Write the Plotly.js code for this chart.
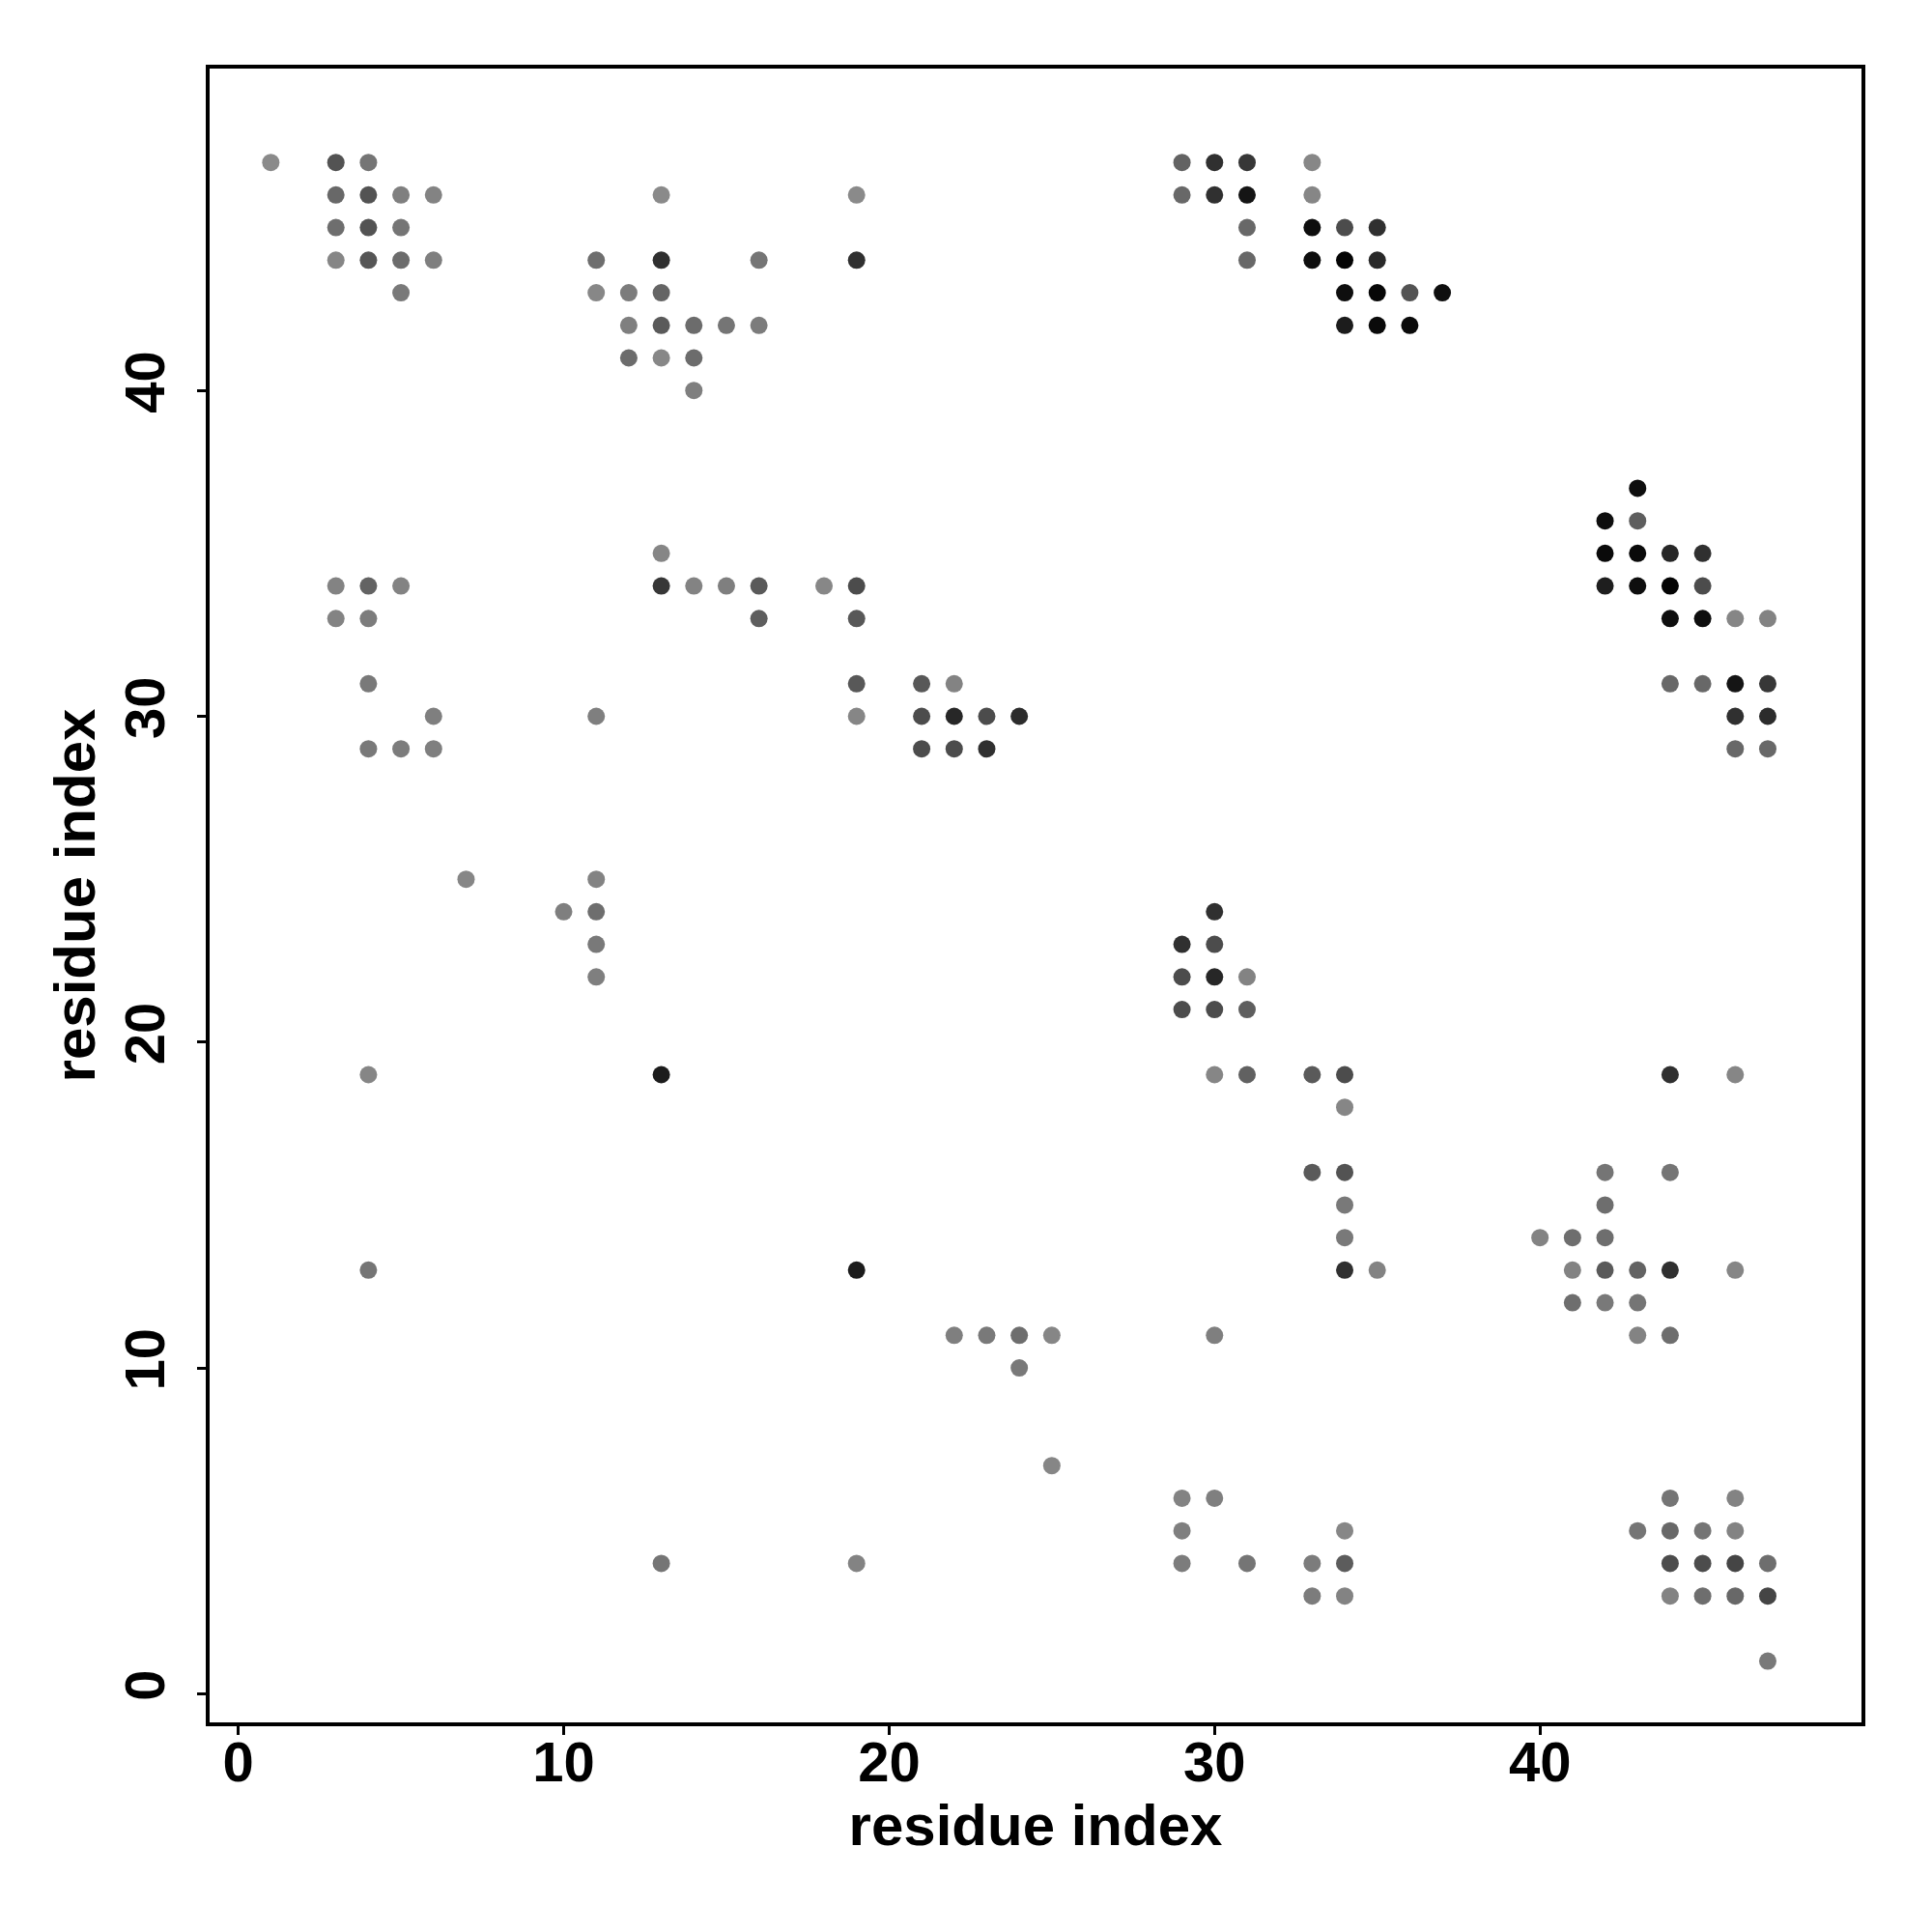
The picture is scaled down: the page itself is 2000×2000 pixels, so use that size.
<!DOCTYPE html>
<html>
<head>
<meta charset="utf-8">
<script src="https://cdn.plot.ly/plotly-3.0.1.min.js"></script>
<style>html,body{margin:0;padding:0;background:#fff;}#chart{width:2000px;height:2000px;}</style>
</head>
<body>
<div id="chart"></div>
<script>
// residue i (x), residue j (y), contact strength (0 = light grey, 1 = black)
const residueX = [
  1,3,4,29,30,31,33,
  3,4,5,6,13,19,29,30,31,33,
  3,4,5,31,33,34,35,
  3,4,5,6,11,13,16,19,31,33,34,35,
  5,11,12,13,34,35,36,37,
  12,13,14,15,16,34,35,36,
  12,13,14,
  14,
  43,
  42,43,
  13,42,43,44,45,
  3,4,5,13,14,15,16,18,19,42,43,44,45,
  3,4,16,19,44,45,46,47,
  4,19,21,22,44,45,46,47,
  6,11,19,21,22,23,24,46,47,
  4,5,6,21,22,23,46,47,
  7,11,
  10,11,30,
  11,29,30,
  11,29,30,31,
  29,30,31,
  4,13,30,31,33,34,44,46,
  34,
  33,34,42,44,
  34,42,
  34,40,41,42,
  4,19,34,35,41,42,43,44,46,
  41,42,43,
  22,23,24,25,30,43,44,
  24,
  25,
  29,30,44,46,
  29,34,43,44,45,46,
  13,19,29,31,33,34,44,45,46,47,
  33,34,44,45,46,47,
  47
];
const residueY = [
  47,47,47,47,47,47,47,
  46,46,46,46,46,46,46,46,46,46,
  45,45,45,45,45,45,45,
  44,44,44,44,44,44,44,44,44,44,44,44,
  43,43,43,43,43,43,43,43,
  42,42,42,42,42,42,42,42,
  41,41,41,
  40,
  37,
  36,36,
  35,35,35,35,35,
  34,34,34,34,34,34,34,34,34,34,34,34,34,
  33,33,33,33,33,33,33,33,
  31,31,31,31,31,31,31,31,
  30,30,30,30,30,30,30,30,30,
  29,29,29,29,29,29,29,29,
  25,25,
  24,24,24,
  23,23,23,
  22,22,22,22,
  21,21,21,
  19,19,19,19,19,19,19,19,
  18,
  16,16,16,16,
  15,15,
  14,14,14,14,
  13,13,13,13,13,13,13,13,13,
  12,12,12,
  11,11,11,11,11,11,11,
  10,
  7,
  6,6,6,6,
  5,5,5,5,5,5,
  4,4,4,4,4,4,4,4,4,4,
  3,3,3,3,3,3,
  1
];
const contactStrength = [
  0,0.4,0.15,0.28,0.65,0.6,0.02,
  0.25,0.4,0.08,0.05,0,0,0.25,0.65,0.85,0.03,
  0.2,0.4,0.15,0.25,0.9,0.45,0.65,
  0.03,0.38,0.22,0.08,0.2,0.65,0.15,0.65,0.25,0.9,0.97,0.7,
  0.12,0.02,0.1,0.27,0.9,0.95,0.4,0.9,
  0.08,0.35,0.22,0.15,0.1,0.8,0.93,0.93,
  0.22,0.02,0.22,
  0.08,
  0.9,
  0.9,0.32,
  0.03,0.93,0.93,0.72,0.65,
  0.05,0.28,0.05,0.6,0.05,0.08,0.35,0.02,0.45,0.78,0.9,0.97,0.45,
  0.05,0.1,0.32,0.36,0.9,0.9,0.03,0.05,
  0.12,0.36,0.36,0.05,0.25,0.25,0.85,0.6,
  0.08,0.08,0.03,0.45,0.72,0.45,0.68,0.65,0.68,
  0.12,0.1,0.08,0.45,0.45,0.65,0.25,0.25,
  0.03,0.05,
  0.08,0.2,0.65,
  0.12,0.65,0.45,
  0.08,0.45,0.72,0.05,
  0.45,0.45,0.32,
  0.03,0.8,0.03,0.3,0.35,0.45,0.65,0.03,
  0.03,
  0.35,0.4,0.15,0.15,
  0.12,0.2,
  0.12,0.05,0.2,0.2,
  0.15,0.8,0.65,0.05,0.05,0.35,0.28,0.65,0.03,
  0.2,0.12,0.15,
  0.08,0.12,0.2,0.03,0.08,0.05,0.2,
  0.12,
  0.03,
  0.05,0.08,0.15,0.05,
  0.08,0.02,0.15,0.25,0.15,0.05,
  0.15,0.05,0.1,0.15,0.1,0.33,0.45,0.45,0.5,0.2,
  0.1,0.05,0.05,0.2,0.25,0.5,
  0.12
];
const tickValues = [0, 10, 20, 30, 40];
const axisTitle = "residue index";

const fontFamily = "Liberation Sans, Arial, Helvetica, sans-serif";

const trace = {
  type: "scatter",
  mode: "markers",
  x: residueX,
  y: residueY,
  marker: {
    size: 18,
    color: contactStrength,
    cmin: 0,
    cmax: 1,
    colorscale: [[0, "rgb(138,138,138)"], [1, "rgb(0,0,0)"]],
    showscale: false,
    line: {width: 0}
  },
  hoverinfo: "x+y",
  showlegend: false
};

const axisCommon = {
  tickvals: tickValues,
  ticktext: tickValues.map(String),
  ticks: "outside",
  ticklen: 9,
  tickwidth: 3,
  tickcolor: "#000",
  showline: true,
  linewidth: 4,
  linecolor: "#000",
  mirror: true,
  showgrid: false,
  zeroline: false,
  tickfont: {family: fontFamily, size: 58, color: "#000", weight: "bold"}
};

const layout = {
  width: 2000,
  height: 2000,
  paper_bgcolor: "#fff",
  plot_bgcolor: "#fff",
  margin: {l: 217, r: 73, t: 71, b: 217},
  xaxis: Object.assign({}, axisCommon, {
    range: [-0.88, 49.88],
    title: {text: axisTitle, font: {family: fontFamily, size: 60, color: "#000", weight: "bold"}, standoff: 14},
    ticklabelstandoff: -22
  }),
  yaxis: Object.assign({}, axisCommon, {
    range: [-0.88, 49.88],
    tickangle: -90,
    title: {text: axisTitle, font: {family: fontFamily, size: 60, color: "#000", weight: "bold"}, standoff: 0},
    ticklabelstandoff: 11
  })
};

Plotly.newPlot("chart", [trace], layout, {displayModeBar: false, staticPlot: true});
</script>
</body>
</html>
